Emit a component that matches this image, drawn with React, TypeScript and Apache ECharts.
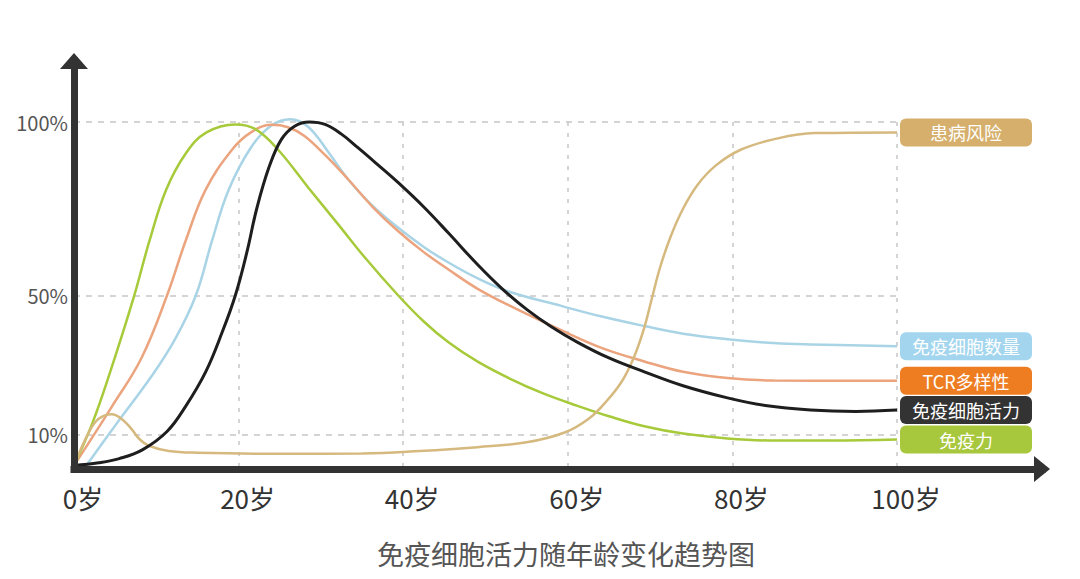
import React, { useEffect, useRef } from "react";
import * as echarts from "echarts";

const FONT = "Noto Sans CJK SC";

const ageTicks = [0, 20, 40, 60, 80, 100];
const ageGridLines = [20, 40, 60, 80, 100];
const percentTicks = [10, 50, 100];

const riskName = "患病风险";
const riskPoints = [
  [0, 1], [1.8, 10.6], [3, 14.5], [4.6, 15.8], [6, 14], [7, 11.5], [8, 8.5],
  [9.1, 6.7], [11.5, 5.2], [15, 4.7], [25, 4.4], [35, 4.5], [42, 5.2], [49, 6.3],
  [55, 7.7], [59.7, 10.6], [62.5, 14.4], [64.5, 19], [66.5, 25], [68, 32],
  [69.2, 40], [70.2, 49], [71.2, 58], [72.5, 67], [74, 75], [75.8, 82],
  [78, 87.5], [81, 92], [85, 95], [90, 96.8], [100, 97],
];

const countName = "免疫细胞数量";
const countPoints = [
  [1.5, 1], [5, 12.5], [9.5, 27], [12.3, 37.5], [14.8, 50], [16.8, 66],
  [18.8, 80.5], [21.6, 93], [24, 99], [26.3, 100.8], [28.5, 98.5], [31, 91],
  [33.3, 83.5], [36, 76.5], [39.4, 69.5], [42.5, 64], [45.5, 59.5], [49, 55],
  [53, 51], [59.2, 47], [64, 44], [69.3, 41.2], [74, 39], [79.4, 37.4],
  [85, 36.3], [89.5, 35.9], [100, 35.4],
];

const tcrName = "TCR多样性";
const tcrPoints = [
  [0, 1], [4.6, 18], [8.2, 32], [11.3, 50], [13.6, 66], [16, 80.5],
  [19.2, 92], [21.5, 97], [24, 99.2], [26, 98.5], [28, 96], [30.5, 90.5],
  [33.3, 83.5], [36.3, 75.5], [39.4, 68.5], [42.5, 62.5], [45.5, 57.5], [49, 52],
  [53, 47], [59.2, 40], [64, 35], [69.3, 31], [74, 28], [79.4, 26.2],
  [85, 25.5], [100, 25.4],
];

const activityName = "免疫细胞活力";
const activityPoints = [
  [0, 1], [3, 1.8], [5.5, 3], [8.3, 5.5], [11.3, 10.8], [13.6, 18.2], [16, 28],
  [18, 39.4], [19.6, 50], [21, 62.4], [22.2, 75], [23.7, 87], [25.2, 95],
  [26.8, 98.8], [28.6, 100], [30.5, 99.3], [32.5, 96.5], [34.5, 92.6],
  [37, 87.5], [39.4, 82.5], [42.5, 75.5], [45.5, 68], [49, 59], [52, 52],
  [55, 46], [58, 41], [61.2, 36.5], [65, 32], [69.3, 28], [74, 24],
  [79.4, 20.5], [84, 18.3], [89.5, 17], [95, 16.6], [100, 17],
];

const immunityName = "免疫力";
const immunityPoints = [
  [0, 1], [2.2, 13], [4.4, 28], [7.2, 49], [9.2, 66], [11.2, 80.5],
  [13.6, 91], [16.1, 97], [19.6, 99.3], [22, 98], [24.8, 92], [28.5, 81],
  [32.1, 70.5], [35.5, 60.5], [39.4, 50], [42.5, 42.5], [45.5, 36.5], [49, 31],
  [53, 26], [57, 21.8], [61.2, 18.2], [65, 15.2], [69.3, 12.3], [74, 10.2],
  [79.4, 8.8], [85, 8.2], [92, 8.2], [100, 8.5],
];

const makeSeries = (
  name: string,
  data: number[][],
  lineColor: string,
  boxColor: string,
  width: number
) => ({
  name,
  type: "line",
  xAxisIndex: 0,
  yAxisIndex: 0,
  data,
  smooth: 0.4,
  symbol: "none",
  clip: false,
  lineStyle: { color: lineColor, width },
  endLabel: {
    show: true,
    distance: 3,
    formatter: "{b|" + name + "}",
    backgroundColor: boxColor,
    borderRadius: 6,
    padding: [4, 0],
    rich: {
      b: {
        width: 132,
        align: "center",
        color: "#fff",
        fontSize: 18,
        lineHeight: 20,
        fontFamily: FONT,
      },
    },
  },
});

const App = function () {
  const chart = useRef<HTMLDivElement>(null);
  useEffect(() => {
    if (!chart.current) return;
    const myChart = echarts.init(chart.current, undefined, { renderer: "svg" });
    const option = {
      animation: false,
      backgroundColor: "#fff",
      title: {
        text: "免疫细胞活力随年龄变化趋势图",
        left: 372,
        top: 535,
        textStyle: {
          fontSize: 27,
          fontWeight: "normal",
          color: "#555",
          fontFamily: FONT,
        },
      },
      grid: [
        { left: 74, top: 122, width: 823, height: 347 },
        { left: 74, top: 61, width: 968, height: 408 },
      ],
      xAxis: [
        {
          type: "value",
          gridIndex: 0,
          min: 0,
          max: 100,
          axisLine: { show: false },
          axisTick: { show: false, customValues: ageGridLines },
          axisLabel: {
            customValues: ageTicks,
            formatter: "{value}岁",
            fontSize: 26,
            color: "#333",
            margin: 15,
            padding: [0, 0, 0, 18],
            fontFamily: FONT,
          },
          splitLine: {
            show: true,
            lineStyle: { color: "#c6c6c6", width: 1.5, type: [4, 7] },
          },
        },
        {
          type: "value",
          gridIndex: 1,
          min: 0,
          max: 1,
          z: 5,
          axisLine: {
            show: true,
            symbol: ["none", "triangle"],
            symbolSize: [26, 16],
            lineStyle: { color: "#333", width: 7, cap: "square" },
          },
          axisTick: { show: false },
          axisLabel: { show: false },
          splitLine: { show: false },
        },
      ],
      yAxis: [
        {
          type: "value",
          gridIndex: 0,
          min: 0,
          max: 100,
          axisLine: { show: false },
          axisTick: { show: false, customValues: percentTicks },
          axisLabel: {
            customValues: percentTicks,
            formatter: "{value}%",
            fontSize: 20,
            color: "#555",
            margin: 6,
            fontFamily: FONT,
          },
          splitLine: {
            show: true,
            lineStyle: { color: "#c6c6c6", width: 1.5, type: [6, 6] },
          },
        },
        {
          type: "value",
          gridIndex: 1,
          min: 0,
          max: 1,
          z: 5,
          axisLine: {
            show: true,
            symbol: ["none", "triangle"],
            symbolSize: [28, 16],
            lineStyle: { color: "#333", width: 7, cap: "square" },
          },
          axisTick: { show: false },
          axisLabel: { show: false },
          splitLine: { show: false },
        },
      ],
      series: [
        makeSeries(countName, countPoints, "#a9d4e6", "#a3d6ee", 2.5),
        makeSeries(tcrName, tcrPoints, "#eba47e", "#ee7d22", 2.5),
        makeSeries(immunityName, immunityPoints, "#a6ca3a", "#a7c73c", 2.5),
        makeSeries(riskName, riskPoints, "#d6b97e", "#d5af6b", 2.5),
        makeSeries(activityName, activityPoints, "#1e1e1e", "#333333", 3),
      ],
    };
    myChart.setOption(option as any);
    return () => {
      myChart.dispose();
    };
  }, []);
  return (
    <div
      ref={chart}
      style={{ position: "fixed", left: 0, top: 0, width: 1080, height: 579 }}
    ></div>
  );
};

export default App;
